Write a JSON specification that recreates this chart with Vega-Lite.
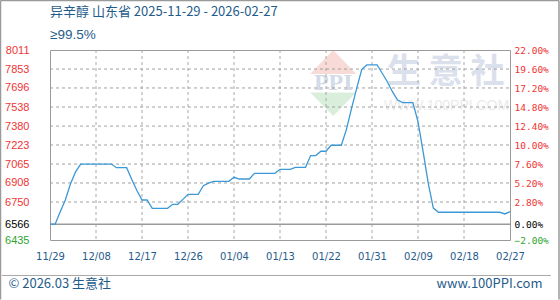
{
  "$schema": "https://vega.github.io/schema/vega-lite/v6.json",
  "width": 460,
  "height": 190,
  "autosize": {"type": "none"},
  "padding": {"left": 50, "top": 50, "right": 50, "bottom": 60},
  "background": "white",
  "title": {
    "text": "异辛醇 山东省 2025-11-29 - 2026-02-27",
    "subtitle": "≥99.5%",
    "anchor": "start",
    "frame": "group",
    "font": "Noto Sans CJK SC",
    "fontSize": 13,
    "fontWeight": "normal",
    "color": "#1f5c8b",
    "subtitleFont": "Liberation Sans",
    "subtitleFontSize": 13.5,
    "subtitleColor": "#1f5c8b",
    "subtitlePadding": 9,
    "offset": -42
  },
  "config": {
    "view": {"stroke": "#9a9a9a", "strokeWidth": 1}
  },
  "datasets": {
    "one": [{}],
    "ygrid": [
      {"v": 7853}, {"v": 7696}, {"v": 7538}, {"v": 7380}, {"v": 7223},
      {"v": 7065}, {"v": 6908}, {"v": 6750}
    ],
    "xgrid": [
      {"date": "2025-12-08"}, {"date": "2025-12-17"}, {"date": "2025-12-26"},
      {"date": "2026-01-04"}, {"date": "2026-01-13"}, {"date": "2026-01-22"},
      {"date": "2026-01-31"}, {"date": "2026-02-09"}, {"date": "2026-02-18"}
    ],
    "prices": [
      {"date": "2025-11-29", "price": 6566},
      {"date": "2025-11-30", "price": 6566},
      {"date": "2025-12-01", "price": 6670},
      {"date": "2025-12-02", "price": 6767},
      {"date": "2025-12-03", "price": 6900},
      {"date": "2025-12-04", "price": 7000},
      {"date": "2025-12-05", "price": 7065},
      {"date": "2025-12-06", "price": 7065},
      {"date": "2025-12-07", "price": 7065},
      {"date": "2025-12-08", "price": 7065},
      {"date": "2025-12-09", "price": 7065},
      {"date": "2025-12-10", "price": 7065},
      {"date": "2025-12-11", "price": 7065},
      {"date": "2025-12-12", "price": 7035},
      {"date": "2025-12-13", "price": 7035},
      {"date": "2025-12-14", "price": 7035},
      {"date": "2025-12-15", "price": 6936},
      {"date": "2025-12-16", "price": 6845},
      {"date": "2025-12-17", "price": 6767},
      {"date": "2025-12-18", "price": 6767},
      {"date": "2025-12-19", "price": 6698},
      {"date": "2025-12-20", "price": 6698},
      {"date": "2025-12-21", "price": 6698},
      {"date": "2025-12-22", "price": 6698},
      {"date": "2025-12-23", "price": 6731},
      {"date": "2025-12-24", "price": 6731},
      {"date": "2025-12-25", "price": 6772},
      {"date": "2025-12-26", "price": 6814},
      {"date": "2025-12-27", "price": 6814},
      {"date": "2025-12-28", "price": 6814},
      {"date": "2025-12-29", "price": 6886},
      {"date": "2025-12-30", "price": 6906},
      {"date": "2025-12-31", "price": 6922},
      {"date": "2026-01-01", "price": 6922},
      {"date": "2026-01-02", "price": 6922},
      {"date": "2026-01-03", "price": 6922},
      {"date": "2026-01-04", "price": 6955},
      {"date": "2026-01-05", "price": 6941},
      {"date": "2026-01-06", "price": 6941},
      {"date": "2026-01-07", "price": 6941},
      {"date": "2026-01-08", "price": 6988},
      {"date": "2026-01-09", "price": 6988},
      {"date": "2026-01-10", "price": 6988},
      {"date": "2026-01-11", "price": 6988},
      {"date": "2026-01-12", "price": 6988},
      {"date": "2026-01-13", "price": 7021},
      {"date": "2026-01-14", "price": 7021},
      {"date": "2026-01-15", "price": 7021},
      {"date": "2026-01-16", "price": 7038},
      {"date": "2026-01-17", "price": 7038},
      {"date": "2026-01-18", "price": 7038},
      {"date": "2026-01-19", "price": 7135},
      {"date": "2026-01-20", "price": 7135},
      {"date": "2026-01-21", "price": 7171},
      {"date": "2026-01-22", "price": 7171},
      {"date": "2026-01-23", "price": 7221},
      {"date": "2026-01-24", "price": 7221},
      {"date": "2026-01-25", "price": 7221},
      {"date": "2026-01-26", "price": 7353},
      {"date": "2026-01-27", "price": 7527},
      {"date": "2026-01-28", "price": 7693},
      {"date": "2026-01-29", "price": 7851},
      {"date": "2026-01-30", "price": 7887},
      {"date": "2026-01-31", "price": 7887},
      {"date": "2026-02-01", "price": 7887},
      {"date": "2026-02-02", "price": 7818},
      {"date": "2026-02-03", "price": 7748},
      {"date": "2026-02-04", "price": 7665},
      {"date": "2026-02-05", "price": 7596},
      {"date": "2026-02-06", "price": 7574},
      {"date": "2026-02-07", "price": 7574},
      {"date": "2026-02-08", "price": 7574},
      {"date": "2026-02-09", "price": 7416},
      {"date": "2026-02-10", "price": 7168},
      {"date": "2026-02-11", "price": 6906},
      {"date": "2026-02-12", "price": 6700},
      {"date": "2026-02-13", "price": 6665},
      {"date": "2026-02-14", "price": 6665},
      {"date": "2026-02-15", "price": 6665},
      {"date": "2026-02-16", "price": 6665},
      {"date": "2026-02-17", "price": 6665},
      {"date": "2026-02-18", "price": 6665},
      {"date": "2026-02-19", "price": 6665},
      {"date": "2026-02-20", "price": 6665},
      {"date": "2026-02-21", "price": 6665},
      {"date": "2026-02-22", "price": 6665},
      {"date": "2026-02-23", "price": 6665},
      {"date": "2026-02-24", "price": 6665},
      {"date": "2026-02-25", "price": 6665},
      {"date": "2026-02-26", "price": 6651},
      {"date": "2026-02-27", "price": 6670}
    ]
  },
  "layer": [
    {
      "data": {"name": "one"},
      "layer": [
        {
          "mark": {"type": "rule", "color": "#a8a8a8", "strokeWidth": 1},
          "encoding": {
            "x": {"datum": {"year": 2025, "month": 11, "date": 19, "hours": 15, "utc": true}, "type": "temporal", "scale": {"type": "utc", "domain": [{"year": 2025, "month": 11, "date": 29, "utc": true}, {"year": 2026, "month": 2, "date": 27, "utc": true}]}, "axis": null},
            "x2": {"datum": {"year": 2026, "month": 3, "date": 7, "utc": true}},
            "y": {"datum": 6140.6, "type": "quantitative", "scale": {"domain": [6435, 8011], "nice": false, "zero": false}, "axis": null}
          }
        },
        {
          "mark": {"type": "rule", "color": "#9a9a9a", "strokeWidth": 1.5},
          "encoding": {
            "x": {"datum": {"year": 2025, "month": 11, "date": 19, "hours": 7, "minutes": 30, "utc": true}, "type": "temporal", "scale": {"type": "utc"}, "axis": null},
            "x2": {"datum": {"year": 2026, "month": 3, "date": 8, "hours": 14, "utc": true}},
            "y": {"datum": 8421.6, "type": "quantitative", "axis": null}
          }
        },
        {
          "mark": {"type": "rule", "color": "#9a9a9a", "strokeWidth": 1.5},
          "encoding": {
            "x": {"datum": {"year": 2025, "month": 11, "date": 19, "hours": 7, "minutes": 30, "utc": true}, "type": "temporal", "scale": {"type": "utc"}, "axis": null},
            "y": {"datum": 5941, "type": "quantitative", "axis": null},
            "y2": {"datum": 8421.6}
          }
        },
        {
          "mark": {"type": "rule", "color": "#9a9a9a", "strokeWidth": 1.5},
          "encoding": {
            "x": {"datum": {"year": 2026, "month": 3, "date": 8, "hours": 14, "utc": true}, "type": "temporal", "scale": {"type": "utc"}, "axis": null},
            "y": {"datum": 5941, "type": "quantitative", "axis": null},
            "y2": {"datum": 8421.6}
          }
        },
        {
          "mark": {"type": "point", "filled": true, "color": "#ec9e94", "opacity": 0.38, "strokeWidth": 0, "shape": "M-1,0.52L0,-0.52L1,0.52Z", "size": 2116},
          "encoding": {
            "x": {"datum": {"year": 2026, "month": 1, "date": 23, "hours": 10, "utc": true}, "type": "temporal", "scale": {"type": "utc"}, "axis": null},
            "y": {"datum": 7911, "type": "quantitative", "axis": null}
          }
        },
        {
          "mark": {"type": "point", "filled": true, "color": "#9fd3a2", "opacity": 0.38, "strokeWidth": 0, "shape": "M-1,-0.507L1,-0.507L0,0.507Z", "size": 2116},
          "encoding": {
            "x": {"datum": {"year": 2026, "month": 1, "date": 23, "hours": 10, "utc": true}, "type": "temporal", "scale": {"type": "utc"}, "axis": null},
            "y": {"datum": 7561, "type": "quantitative", "axis": null}
          }
        },
        {
          "mark": {"type": "text", "text": "PPI", "font": "Liberation Serif", "fontWeight": "bold", "fontSize": 24, "color": "#a9b6d3", "opacity": 0.5, "baseline": "middle", "align": "center"},
          "encoding": {
            "x": {"datum": {"year": 2026, "month": 1, "date": 23, "hours": 10, "utc": true}, "type": "temporal", "scale": {"type": "utc"}, "axis": null},
            "y": {"datum": 7740, "type": "quantitative", "axis": null}
          }
        },
        {
          "mark": {"type": "text", "text": "生 意 社", "font": "Noto Sans CJK SC", "fontWeight": "bold", "fontSize": 34, "color": "#b7c2da", "opacity": 0.5, "baseline": "middle", "align": "center"},
          "encoding": {
            "x": {"datum": {"year": 2026, "month": 2, "date": 14, "hours": 10, "utc": true}, "type": "temporal", "scale": {"type": "utc"}, "axis": null},
            "y": {"datum": 7824, "type": "quantitative", "axis": null}
          }
        },
        {
          "mark": {"type": "text", "text": "WWW.100PPI.COM", "font": "Liberation Sans", "fontSize": 14, "color": "#d6d6d6", "opacity": 0.5, "baseline": "middle", "align": "center"},
          "encoding": {
            "x": {"datum": {"year": 2026, "month": 2, "date": 14, "hours": 14, "utc": true}, "type": "temporal", "scale": {"type": "utc"}, "axis": null},
            "y": {"datum": 7546, "type": "quantitative", "axis": null}
          }
        },
        {
          "data": {"name": "ygrid"},
          "mark": {"type": "rule", "color": "#a0a0a0", "strokeWidth": 1, "strokeDash": [3, 3]},
          "encoding": {
            "x": {"datum": {"year": 2025, "month": 11, "date": 29, "utc": true}, "type": "temporal", "scale": {"type": "utc"}, "axis": null},
            "x2": {"datum": {"year": 2026, "month": 2, "date": 27, "utc": true}},
            "y": {"field": "v", "type": "quantitative", "axis": null}
          }
        },
        {
          "data": {"name": "xgrid"},
          "mark": {"type": "rule", "color": "#a8a8a8", "strokeWidth": 1, "strokeDash": [3, 3]},
          "encoding": {
            "x": {"field": "date", "type": "temporal", "scale": {"type": "utc"}, "axis": null}
          }
        },
        {
          "mark": {"type": "rule", "color": "#9a9a9a", "strokeWidth": 1.5},
          "encoding": {
            "y": {"datum": 6566, "type": "quantitative", "axis": null}
          }
        }
      ]
    },
    {
      "data": {"name": "prices"},
      "mark": {"type": "line", "color": "#3c98d6", "strokeWidth": 1.3, "interpolate": "linear"},
      "encoding": {
        "x": {
          "field": "date",
          "type": "temporal",
          "scale": {"type": "utc", "domain": [{"year": 2025, "month": 11, "date": 29, "utc": true}, {"year": 2026, "month": 2, "date": 27, "utc": true}]},
          "axis": {
            "values": [
              {"year": 2025, "month": 11, "date": 29, "utc": true},
              {"year": 2025, "month": 12, "date": 8, "utc": true},
              {"year": 2025, "month": 12, "date": 17, "utc": true},
              {"year": 2025, "month": 12, "date": 26, "utc": true},
              {"year": 2026, "month": 1, "date": 4, "utc": true},
              {"year": 2026, "month": 1, "date": 13, "utc": true},
              {"year": 2026, "month": 1, "date": 22, "utc": true},
              {"year": 2026, "month": 1, "date": 31, "utc": true},
              {"year": 2026, "month": 2, "date": 9, "utc": true},
              {"year": 2026, "month": 2, "date": 18, "utc": true},
              {"year": 2026, "month": 2, "date": 27, "utc": true}
            ],
            "labelExpr": "utcFormat(datum.value, '%m/%d')",
            "domain": false,
            "ticks": false,
            "grid": false,
            "labelFlush": false,
            "labelOverlap": false,
            "labelFont": "DejaVu Sans",
            "labelFontSize": 10,
            "labelColor": "#1f5c8b",
            "labelPadding": 11,
            "title": "© 2026.03 生意社",
            "titleX": -42,
            "titleY": 43,
            "titleAlign": "left",
            "titleBaseline": "middle",
            "titleFont": "Noto Sans CJK SC",
            "titleFontSize": 13,
            "titleFontWeight": "normal",
            "titleColor": "#1f5c8b"
          }
        },
        "y": {
          "field": "price",
          "type": "quantitative",
          "scale": {"domain": [6435, 8011], "nice": false, "zero": false},
          "axis": {
            "orient": "left",
            "values": [8011, 7853, 7696, 7538, 7380, 7223, 7065, 6908, 6750, 6566, 6435],
            "format": "d",
            "title": null,
            "domain": false,
            "ticks": false,
            "grid": false,
            "labelFlush": false,
            "labelOverlap": false,
            "labelFont": "Liberation Sans",
            "labelFontSize": 11,
            "labelPadding": 21,
            "labelColor": {"expr": "datum.value > 6566 ? '#f03434' : (datum.value == 6566 ? '#000000' : '#2fa52f')"}
          }
        }
      }
    },
    {
      "data": {"name": "one"},
      "mark": {"type": "rule", "strokeOpacity": 0},
      "encoding": {
        "y": {
          "datum": 0,
          "type": "quantitative",
          "scale": {"domain": [-2, 22], "nice": false, "zero": false},
          "axis": {
            "orient": "right",
            "values": [22, 19.6, 17.2, 14.8, 12.4, 10, 7.6, 5.2, 2.8, 0, -2],
            "labelExpr": "format(datum.value, '.2f') + '%'",
            "domain": false,
            "ticks": false,
            "grid": false,
            "labelFlush": false,
            "labelOverlap": false,
            "labelFont": "DejaVu Sans Mono",
            "labelFontSize": 9.5,
            "labelPadding": 4,
            "labelColor": {"expr": "datum.value > 0 ? '#f03434' : (datum.value == 0 ? '#000000' : '#2fa52f')"},
            "title": "www.100PPI.com",
            "titleAngle": 0,
            "titleX": 32,
            "titleY": 233,
            "titleAlign": "right",
            "titleBaseline": "middle",
            "titleFont": "Noto Sans CJK SC",
            "titleFontSize": 13,
            "titleFontWeight": "normal",
            "titleColor": "#1f5c8b"
          }
        }
      }
    }
  ],
  "resolve": {"scale": {"x": "independent", "y": "independent"}, "axis": {"x": "independent", "y": "independent"}}
}
